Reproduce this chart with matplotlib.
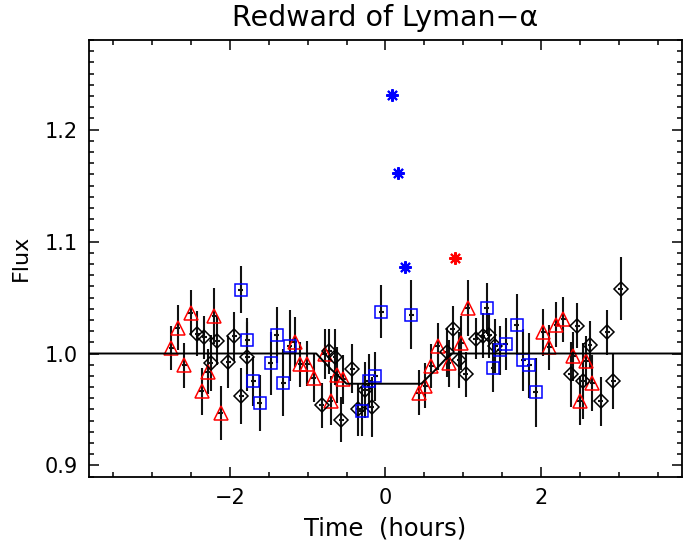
import numpy as np
import matplotlib
matplotlib.use("Agg")
import matplotlib.pyplot as plt
from matplotlib.ticker import MultipleLocator, FormatStrFormatter

# red triangles
tri_t = [-2.750, -2.671, -2.586, -2.500, -2.363, -2.286, -2.201, -2.115,
         -1.167, -1.094, -1.006, -0.921, -0.782, -0.701, -0.628, -0.544,
         0.426, 0.510, 0.586, 0.671, 0.810, 0.974, 1.060,
         2.026, 2.106, 2.196, 2.282, 2.413, 2.497, 2.581, 2.658]
tri_f = [1.0049, 1.0229, 0.9893, 1.0363, 0.9663, 0.9837, 1.0333, 0.9471,
         1.0103, 0.9902, 0.9909, 0.9783, 0.9996, 0.9580, 0.9808, 0.9768,
         0.9649, 0.9714, 0.9889, 1.0065, 0.9913, 1.0096, 1.0404,
         1.0189, 1.0054, 1.0259, 1.0304, 0.9976, 0.9580, 0.9936, 0.9738]
tri_e = [0.020, 0.020, 0.020, 0.020, 0.021, 0.020, 0.025, 0.024,
         0.022, 0.020, 0.020, 0.022, 0.022, 0.022, 0.025, 0.022,
         0.020, 0.020, 0.020, 0.021, 0.021, 0.024, 0.025,
         0.021, 0.020, 0.020, 0.020, 0.022, 0.022, 0.022, 0.025]

# black diamonds
dia_t = [-2.419, -2.331, -2.246, -2.164, -2.023, -1.946, -1.856, -1.779,
         -0.817, -0.722, -0.644, -0.568, -0.429, -0.350, -0.260, -0.179,
         0.786, 0.867, 0.949, 1.029, 1.160, 1.247, 1.333, 1.410,
         2.381, 2.462, 2.542, 2.628, 2.769, 2.850, 2.927, 3.022]
dia_f = [1.0177, 1.0143, 0.9911, 1.0114, 0.9922, 1.0154, 0.9619, 0.9971,
         0.9538, 1.0018, 0.9971, 0.9408, 0.9866, 0.9500, 0.9676, 0.9520,
         1.0012, 1.0221, 0.9946, 0.9813, 1.0134, 1.0159, 1.0161, 1.0067,
         0.9813, 1.0250, 0.9754, 1.0080, 0.9574, 1.0190, 0.9753, 1.0580]
dia_e = [0.020, 0.019, 0.025, 0.022, 0.023, 0.022, 0.025, 0.031,
         0.020, 0.020, 0.025, 0.020, 0.022, 0.024, 0.025, 0.027,
         0.022, 0.020, 0.025, 0.020, 0.018, 0.020, 0.020, 0.024,
         0.029, 0.020, 0.034, 0.021, 0.022, 0.020, 0.025, 0.028]

# blue squares
sq_t = [-1.862, -1.778, -1.701, -1.618, -1.477, -1.395, -1.312, -1.231,
        -0.304, -0.215, -0.132, -0.055, 0.333,
        1.299, 1.385, 1.468, 1.545, 1.686, 1.769, 1.850, 1.932]
sq_f = [1.0571, 1.0118, 0.9753, 0.9560, 0.9913, 1.0163, 0.9738, 1.0071,
        0.9485, 0.9753, 0.9797, 1.0375, 1.0346,
        1.0402, 0.9872, 1.0027, 1.0085, 1.0259, 0.9942, 0.9893, 0.9654]
sq_e = [0.021, 0.020, 0.022, 0.025, 0.028, 0.025, 0.030, 0.032,
        0.022, 0.024, 0.022, 0.024, 0.031,
        0.023, 0.022, 0.022, 0.023, 0.027, 0.028, 0.029, 0.031]

# rejected points (asterisks)
out_blue_t = [0.086, 0.167, 0.253]
out_blue_f = [1.2306, 1.1613, 1.0774]
out_red_t = [0.894]
out_red_f = [1.0854]

# transit model
model_t = [-3.81, -0.89, -0.70, -0.50, 0.46, 0.65, 0.84, 3.81]
model_f = [1.0, 1.0, 0.986, 0.973, 0.973, 0.986, 1.0, 1.0]

plt.rcParams['font.family'] = ['DejaVu Sans']

fig = plt.figure(figsize=(6.83, 5.46), dpi=100)
ax = fig.add_axes([0.1303, 0.127, 0.8682, 0.7997])

ax.plot(model_t, model_f, color='black', lw=1.4, zorder=3)

xe = 0.032
ax.errorbar(tri_t, tri_f, yerr=tri_e, xerr=xe, fmt='^', ms=9.5, mfc='none',
            mec='red', mew=1.1, ecolor='#111111', elinewidth=1.5, capsize=0)
ax.errorbar(dia_t, dia_f, yerr=dia_e, xerr=xe, fmt='D', ms=7.5, mfc='none',
            mec='black', mew=1.1, ecolor='#111111', elinewidth=1.5, capsize=0)
ax.errorbar(sq_t, sq_f, yerr=sq_e, xerr=xe, fmt='s', ms=8.5, mfc='none',
            mec='blue', mew=1.1, ecolor='#111111', elinewidth=1.5, capsize=0)

ax.plot(out_blue_t, out_blue_f, ls='none', marker=(8, 2, 0), ms=9,
        mec='blue', mew=1.5)
ax.plot(out_red_t, out_red_f, ls='none', marker=(8, 2, 0), ms=9,
        mec='red', mew=1.5)

ax.set_xlim(-3.81, 3.81)
ax.set_ylim(0.89, 1.28)

ax.xaxis.set_major_locator(MultipleLocator(2))
ax.xaxis.set_minor_locator(MultipleLocator(0.5))
ax.yaxis.set_major_locator(MultipleLocator(0.1))
ax.yaxis.set_minor_locator(MultipleLocator(0.01))
ax.yaxis.set_major_formatter(FormatStrFormatter('%.1f'))

ax.tick_params(which='both', direction='in', top=True, right=True,
               labelsize=15, width=1.1, pad=8)
ax.tick_params(which='major', length=7)
ax.tick_params(which='minor', length=3.5)
for s in ax.spines.values():
    s.set_linewidth(1.3)

ax.set_xlabel('Time  (hours)', fontsize=17.5, labelpad=6)
ax.set_ylabel('Flux', fontsize=16, labelpad=10)
ax.set_title('Redward of Lyman\u2212\u03b1', fontsize=20.5, pad=10)

fig.savefig('out.png', dpi=100)
